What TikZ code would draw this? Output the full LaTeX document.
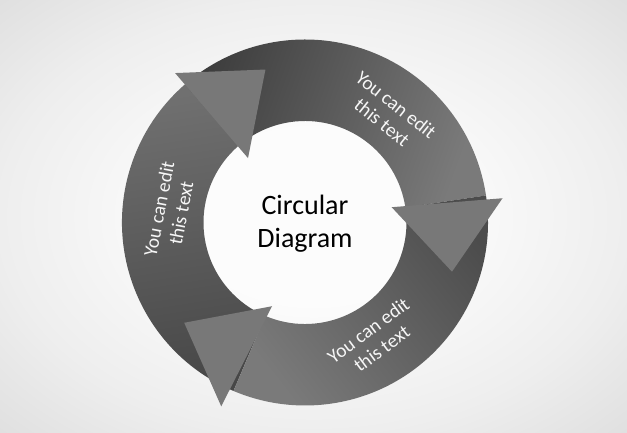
\documentclass[tikz,border=0pt]{standalone}
\usepackage{fontspec}
\setmainfont{Carlito}
\usetikzlibrary{positioning}

\definecolor{bgin}{HTML}{FCFCFC}
\definecolor{bgmid}{HTML}{EEEEEE}
\definecolor{bgout}{HTML}{DFDFDF}
\definecolor{headgray}{HTML}{787878}
\definecolor{notewhite}{HTML}{F6F6F6}
\pgfdeclareradialshading{backshade}{\pgfpoint{0bp}{0bp}}{color(0bp)=(bgin); color(10bp)=(bgin); color(25bp)=(bgmid); color(36bp)=(bgout); color(50bp)=(bgout)}

\begin{document}
\begin{tikzpicture}[x=1pt, y=1pt,
headnode/.style={fill=headgray, draw=none},
notenode/.style={text=notewhite, font=\fontsize{19.5}{22.5}\selectfont, align=center, inner sep=0pt},
titlenode/.style={text=black, font=\fontsize{28}{33}\selectfont, align=center, inner sep=0pt},
]
%Background
\shade[shading=backshade] (-305,222.5) rectangle (322,-210.5);
\useasboundingbox (-305,222.5) rectangle (322,-210.5);

%Bodies
\shade[top color=black!72, bottom color=black!56, shading angle=189]
  (247:183) arc[start angle=247, end angle=131, radius=183]
  -- (131:101.5) arc[start angle=131, end angle=247, radius=101.5] -- cycle;
\shade[top color=black!76, bottom color=black!52, shading angle=70]
  (131:183) arc[start angle=131, end angle=8.5, radius=183]
  -- (8.5:101.5) arc[start angle=8.5, end angle=131, radius=101.5] -- cycle;
\shade[top color=black!70, bottom color=black!52, shading angle=-52]
  (8.5:183) arc[start angle=8.5, end angle=-113, radius=183]
  -- (-113:101.5) arc[start angle=-113, end angle=8.5, radius=101.5] -- cycle;

%Heads
\fill[headnode] (131.5:86) -- (131:198) -- (104.5:158) -- cycle;
\fill[headnode] (10:88) -- (7:199) -- (-18.5:155) -- cycle;
\fill[headnode] (248.5:90) -- (245.5:202) -- (219.7:157) -- cycle;

%Texts
\node[titlenode] (title) at (0,-1) {Circular\\Diagram};
\node[notenode, rotate=-38.5] (topnote) at (84,109) {You can edit\\this text};
\node[notenode, rotate=79] (leftnote) at (-135,11.5) {You can edit\\this text};
\node[notenode, rotate=36.5] (bottomnote) at (70,-117) {You can edit\\this text};
\end{tikzpicture}
\end{document}
